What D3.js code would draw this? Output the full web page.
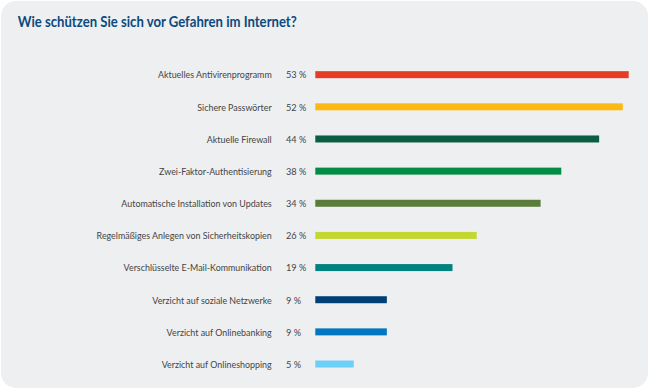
<!DOCTYPE html>
<html>
<head>
<meta charset="utf-8">
<script src="https://cdn.jsdelivr.net/npm/d3@7"></script>
<style>
  body { margin: 0; background: #fff; }
  svg { display: block; }
</style>
</head>
<body>
<div id="chart"></div>
<script>
// categories, top to bottom
const categories = [
  'Aktuelles Antivirenprogramm',
  'Sichere Passwörter',
  'Aktuelle Firewall',
  'Zwei-Faktor-Authentisierung',
  'Automatische Installation von Updates',
  'Regelmäßiges Anlegen von Sicherheitskopien',
  'Verschlüsselte E-Mail-Kommunikation',
  'Verzicht auf soziale Netzwerke',
  'Verzicht auf Onlinebanking',
  'Verzicht auf Onlineshopping'
]

// printed shares (%)
const shares = [53, 52, 44, 38, 34, 26, 19, 9, 9, 5]

// bar lengths as drawn in the original (they don't follow the printed numbers exactly)
const barLengths = [53, 52, 48, 41.6, 38.1, 27.3, 23.2, 12.1, 12.1, 6.5]

const colors = ['#e63c23', '#fdb913', '#0b5e42', '#008d46', '#5a7d3c',
                '#c3d730', '#00827f', '#004077', '#0077c0', '#6ccff6']

const title = 'Wie schützen Sie sich vor Gefahren im Internet?'

const width = 650
const height = 389

const svg = d3.select('#chart').append('svg')
  .attr('width', width)
  .attr('height', height)

// card background
svg.append('rect')
  .attr('x', 1).attr('y', 1)
  .attr('width', 647).attr('height', 387)
  .attr('rx', 15).attr('ry', 15)
  .style('fill', '#eeeff1')

// title, squeezed horizontally (original typeface is narrower than Lato)
svg.append('text')
  .attr('transform', 'translate(17.7,26.7) scale(0.85,1)')
  .style('font-family', 'Lato, sans-serif')
  .style('font-weight', 'bold')
  .style('font-size', '15.5px')
  .style('fill', '#0b4a7e')
  .text(title)
  .each(function () {
    // fit to the width seen in the reference
    const w = this.getComputedTextLength()
    d3.select(this).attr('transform', 'translate(17.7,26.7) scale(' + (279 / w) + ',1)')
  })

const x = d3.scaleLinear().domain([0, 53]).range([315.3, 628.7])
const y = d3.scaleBand().domain(categories).range([58.6, 380.1])

const rows = svg.selectAll('g.row')
  .data(categories.map((c, i) => ({name: c, share: shares[i], len: barLengths[i], color: colors[i]})))
  .enter().append('g')
    .attr('class', 'row')
    .attr('transform', d => 'translate(0,' + (y(d.name) + y.bandwidth() / 2) + ')')

rows.append('rect')
  .attr('x', x(0))
  .attr('y', -3.5)
  .attr('width', d => x(d.len) - x(0))
  .attr('height', 7)
  .style('fill', d => d.color)

rows.append('text')
  .attr('transform', 'translate(271.7,3.8) scale(0.89,1)')
  .attr('text-anchor', 'end')
  .style('font-family', 'Lato, sans-serif')
  .style('font-size', '10px')
  .style('fill', '#444')
  .text(d => d.name)

rows.append('text')
  .attr('transform', 'translate(286,3.8) scale(0.92,1)')
  .style('font-family', 'Lato, sans-serif')
  .style('font-size', '10px')
  .style('fill', '#444')
  .text(d => d.share + ' %')
</script>
</body>
</html>
